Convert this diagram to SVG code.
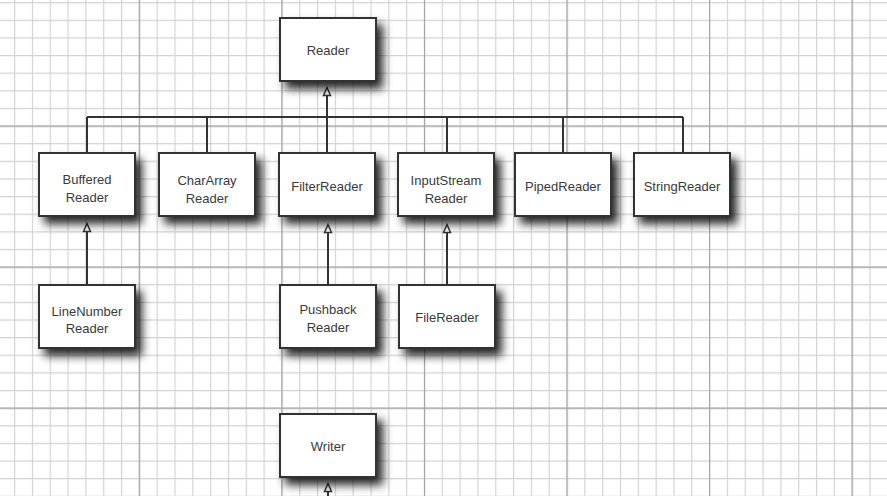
<svg xmlns="http://www.w3.org/2000/svg" width="887" height="496" viewBox="0 0 887 496">
<style>
.box{fill:#fff;stroke:#333;stroke-width:2;filter:url(#sh)}
.lbl{font-family:"Liberation Sans",Arial,sans-serif;font-size:13px;fill:#3a3a3a;text-anchor:middle}
.ln{fill:none;stroke:#333;stroke-width:2}
.inh{marker-end:url(#tri)}
</style>
<defs>
<pattern id="minor" patternUnits="userSpaceOnUse" x="14.06" y="2.09" width="17.82" height="17.63">
<path d="M0.5 0V17.63M0 0.5H17.82" fill="none" stroke="#d2d2d2" stroke-width="1.3"/>
</pattern>
<pattern id="major" patternUnits="userSpaceOnUse" x="138.8" y="125.5" width="142.56" height="141.04">
<path d="M0.5 0V141.04M0 0.5H142.56" fill="none" stroke="#a3a3a3" stroke-width="1.3"/>
</pattern>
<filter id="sh" x="-25%" y="-25%" width="160%" height="170%">
<feDropShadow dx="6" dy="7" stdDeviation="5" flood-color="#000" flood-opacity="0.85"/>
</filter>
<marker id="tri" markerUnits="userSpaceOnUse" markerWidth="12" markerHeight="12" refX="0.5" refY="3.5" orient="auto" overflow="visible">
<path d="M0,0L8,3.5L0,7Z" fill="#fff" stroke="#333" stroke-width="1.5" stroke-linejoin="miter"/>
</marker>
</defs>
<rect width="887" height="496" fill="#fff"/>
<rect width="887" height="496" fill="url(#minor)"/>
<rect width="887" height="496" fill="url(#major)"/>

<g id="connectors">
<path class="ln inh" d="M327,117V95"/>
<path class="ln" d="M87,117H683M87,117V153M207,117V153M327,117V153M447,117V153M563,117V153M683,117V153"/>
<path class="ln inh" d="M87,285V231"/>
<path class="ln inh" d="M328,285V232"/>
<path class="ln inh" d="M447,285V232"/>
<path class="ln inh" d="M328,500V491"/>
</g>

<g id="reader"><rect class="box" x="280" y="18" width="96" height="63"/><text class="lbl" x="328" y="54.5">Reader</text></g>
<g id="bufferedreader"><rect class="box" x="39" y="153" width="96" height="63"/><text class="lbl" x="87" y="184">Buffered</text><text class="lbl" x="87" y="202">Reader</text></g>
<g id="chararrayreader"><rect class="box" x="159" y="153" width="96" height="63"/><text class="lbl" x="207" y="185">CharArray</text><text class="lbl" x="207" y="203">Reader</text></g>
<g id="filterreader"><rect class="box" x="279" y="153" width="96" height="63"/><text class="lbl" x="327" y="191">FilterReader</text></g>
<g id="inputstreamreader"><rect class="box" x="398" y="153" width="96" height="63"/><text class="lbl" x="446" y="184.5">InputStream</text><text class="lbl" x="446" y="202.5">Reader</text></g>
<g id="pipedreader"><rect class="box" x="515" y="153" width="96" height="63"/><text class="lbl" x="563" y="191">PipedReader</text></g>
<g id="stringreader"><rect class="box" x="634" y="153" width="96" height="63"/><text class="lbl" x="682" y="191">StringReader</text></g>
<g id="linenumberreader"><rect class="box" x="39" y="285" width="96" height="63"/><text class="lbl" x="87" y="315.5">LineNumber</text><text class="lbl" x="87" y="333">Reader</text></g>
<g id="pushbackreader"><rect class="box" x="280" y="285" width="96" height="63"/><text class="lbl" x="328" y="314">Pushback</text><text class="lbl" x="328" y="331.5">Reader</text></g>
<g id="filereader"><rect class="box" x="399" y="285" width="96" height="63"/><text class="lbl" x="447" y="321.5">FileReader</text></g>
<g id="writer"><rect class="box" x="280" y="414" width="96" height="63"/><text class="lbl" x="328" y="450.5">Writer</text></g>
</svg>
